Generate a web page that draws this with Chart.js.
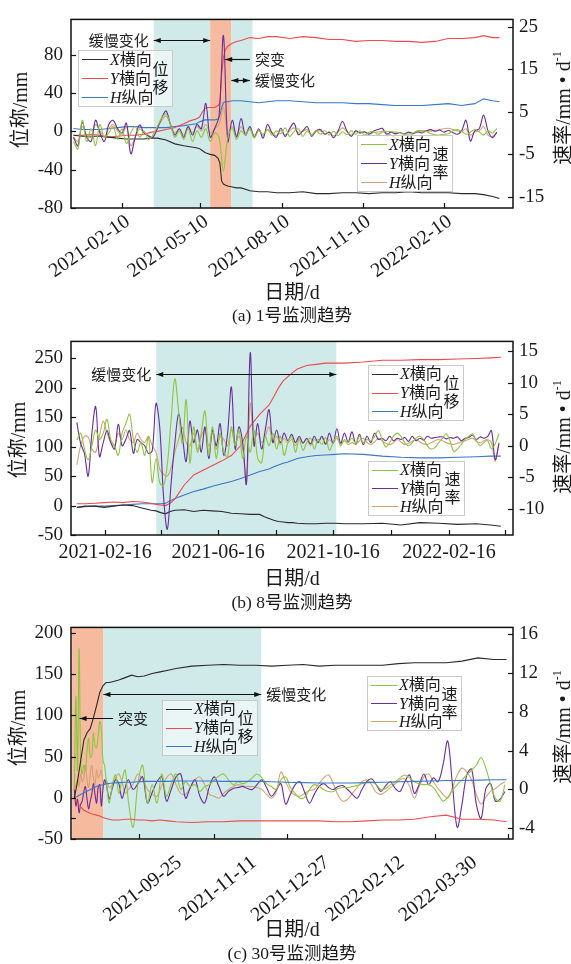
<!DOCTYPE html>
<html>
<head>
<meta charset="utf-8">
<script src="https://cdn.jsdelivr.net/npm/chart.js@4/dist/chart.umd.min.js"></script>
<style>
html,body{margin:0;padding:0;background:#fff;}
body{width:571px;height:964px;position:relative;overflow:hidden;font-family:"Liberation Serif","Noto Sans CJK SC",serif;color:#1a1a1a;}
canvas{position:absolute;left:0;}
.t{position:absolute;white-space:nowrap;transform:translate(-50%,-50%);}
.ax{font-size:20px;}
.cap{font-size:17.5px;}
.vt{position:absolute;white-space:nowrap;transform:translate(-50%,-50%) rotate(-90deg);font-size:20px;}
.vt sup{font-size:12px;vertical-align:9px;line-height:0;}
.lg{position:absolute;box-sizing:border-box;border:1px solid #c9c9c9;background:rgba(255,255,255,0.55);}
.lr{position:absolute;left:3px;height:20px;line-height:20px;display:flex;align-items:center;font-size:16px;white-space:nowrap;}
.ln{display:inline-block;width:26px;height:0;border-top:1.2px solid;margin-right:2px;}
.sd{position:absolute;right:3px;top:50%;transform:translateY(-50%);width:17px;font-size:16px;line-height:18px;text-align:center;}
</style>
</head>
<body>
<canvas id="ca" width="571" height="285" style="top:0px"></canvas>
<canvas id="cb" width="571" height="248" style="top:322px"></canvas>
<canvas id="cc" width="571" height="317" style="top:608px"></canvas>

<div class="vt" style="left:18px;top:110px">位称/mm</div>
<div class="vt" style="left:561px;top:108px">速率/mm • d<sup>-1</sup></div>
<div class="t ax" style="left:292px;top:290px">日期/d</div>
<div class="t cap" style="left:292px;top:313px">(a) 1号监测趋势</div>

<div class="vt" style="left:16px;top:440px">位称/mm</div>
<div class="vt" style="left:561px;top:437px">速率/mm • d<sup>-1</sup></div>
<div class="t ax" style="left:292px;top:576px">日期/d</div>
<div class="t cap" style="left:292px;top:600px">(b) 8号监测趋势</div>

<div class="vt" style="left:16px;top:728px">位称/mm</div>
<div class="vt" style="left:561px;top:727px">速率/mm • d<sup>-1</sup></div>
<div class="t ax" style="left:292px;top:927px">日期/d</div>
<div class="t cap" style="left:292px;top:951px">(c) 30号监测趋势</div>

<script>
// ---------- Station 1: days counted from 2021-01-01 ----------
const dispDaysA = [-15,-5,5,15,25,35,45,55,65,72,80,90,100,110,117,124,128,131,134,137,140,145,149,151,153,155,157,160,165,170,175,185,195,205,215,230,245,260,275,290,305,320,335,350,365,380,395,410,425,440,450,460,468];
const dispXA = [-4,-5,-5,-5,-6,-7,-8,-8,-8,-7,-7,-9,-13,-15,-16,-17,-18,-20,-22,-23,-24,-25,-28,-33,-52,-55,-56,-57,-58,-59,-59,-62,-63,-63,-64,-64,-63,-65,-65,-64,-64,-65,-64,-64,-63,-64,-64,-64,-65,-65,-66,-68,-70];
const dispYA = [-4,-4,-3,-4,-6,-5,-4,-4,-3,-1,0,2,4,8,11,13,15,20,24,25,25,25,27,30,60,77,85,89,92,94,95,98,97,99,99,97,99,98,96,96,94,95,95,94,94,93,94,97,97,98,100,98,98];
const dispHA = [3,2,2,2,3,4,5,5,4,4,4,4,5,6,7,8,10,11,12,12,12,12,13,17,25,30,31,31,32,32,32,31,30,31,32,32,31,30,30,30,29,29,28,27,27,27,28,29,27,29,34,32,31];

const velDaysA = [-15,-10,-5,0,5,10,15,20,25,30,35,40,45,50,55,60,65,70,75,80,85,90,95,100,105,110,115,120,125,130,135,140,145,150,155,160,165,170,175,180,185,190,195,200,205,210,215,220,225,230,235,240,245,250,255,260,265,270,275,280,285,290,295,300,305,310,315,320,325,330,335,340,345,350,355,360,365,370,375,380,385,390,395,400,405,410,415,420,425,430,435,440,445,450,455,460,465];
const velXA = [-2,-3.8,3,-2,1,-3,2,-1,0,1.5,-1.5,1,-2.5,0,1.5,-1,0.5,-1.5,-0.5,1.5,3.5,4.5,2,-1,0.5,-1.5,1,-2,0.5,-1,1,-2,0,-1,-9,-1,
  1,-1.5,0.5,-0.5,1,-1.2,0.5,-0.3,0.8,-0.5,0.5,-0.2,1.2,-0.8,0.3,1,-0.8,0.5,-0.5,0.6,-0.3,0.6,-0.5,0.4,-0.6,0.3,-0.4,0.5,-0.3,0.5,-0.5,0.2,0.4,-0.3,0.2,0.4,0.3,0.2,0,-0.3,-0.2,0,0.5,0.6,0.4,-0.2,-0.4,-0.5,-0.3,-0.2,0.5,0.8,0.4,-0.3,0.2,0.8,0.3,-0.5,0.5,0,1.1];
const velYA = [-1,-3,2.5,-1,-2,3,0,-2,2,3,1,0,2.3,-4.9,-1,1.9,0,-0.7,-1,1,3.5,5.2,2,-0.5,1,-1,1.5,-0.5,2,1,7,-1,1,4,23,-2,
  3,-1,3.4,-0.5,1.5,-1,1,-1.2,2,0,-1,1.1,-0.8,1,2.3,-0.4,0.5,1.5,-0.8,0.5,0.8,-0.3,0.2,-1.1,0.5,2.7,0.5,-0.8,0.5,0,0.3,-0.3,0.4,0.8,1.1,-0.3,0.2,-0.2,0.1,-0.2,0.2,-0.1,0.3,0,0.5,0.8,0.4,0.7,0.2,0.6,0.1,-0.3,0.5,3,-1.9,0.5,1,4.2,0.5,-1.1,0.2];
const velHA = [-1,-2,1.5,-0.5,-1,2,0.5,-1,1,2,0.5,-0.5,1.5,-3,-1,1,0,-0.5,-1,1,3,4,2,0,1,-0.5,1.5,0,1.5,0.5,2,0,1,2,6,0,
  1.5,-0.5,1.5,0,0.8,-0.5,0.6,-0.6,0.8,0.2,-0.6,0.6,-0.4,0.5,1.2,0,0.4,0.8,-0.5,0.3,0.5,-0.2,0.1,-0.7,0.2,1.2,0.3,-0.5,0.3,0,0.2,-0.2,0.1,0.2,0.4,0,-0.5,-1.2,-1.8,-1.5,-0.8,-0.2,0.2,0.3,0.5,0.4,0.6,0.8,1,1.1,0.8,0.5,0.3,1,-0.5,0.3,0.5,1.5,-0.5,-0.8,0];

const tickDaysA = [40,129,221,313,405];
const tickLabelsA = ['2021-02-10','2021-05-10','2021-08-10','2021-11-10','2022-02-10'];

// ---------- Station 8 ----------
const dispDaysB = [16,25,35,45,55,65,75,85,95,100,105,110,115,120,130,140,150,160,170,180,190,200,210,215,220,225,230,235,240,245,250,260,270,280,290,300,320,340,360,380,400,420,440,455,466];
const dispXB = [-3,-1,-1,-3,-1,1,0,-4,-8,-9,-12,-14,-10,-8,-7,-10,-8,-9,-10,-13,-14,-15,-15,-19,-22,-25,-27,-28,-29,-29,-30,-31,-31,-30,-30,-31,-31,-30,-33,-29,-30,-32,-31,-33,-35];
const dispYB = [3,3,4,5,6,5,7,6,4,2,1,0,4,11,35,52,60,68,76,85,102,135,155,163,171,185,200,212,219,226,232,238,240,242,242,242,244,247,247,248,248,249,250,251,252];
const dispHB = [-3,-2,-1,-1,0,1,2,3,3,3,3,4,8,12,18,24,28,33,37,41,46,52,58,60,62,66,69,72,74,77,80,83,85,86,87,88,87,84,82,81,81,82,83,84,84];

const velDaysB = [16,20,24,28,32,36,40,44,48,52,56,60,64,68,72,76,80,84,88,92,96,100,104,108,112,116,120,124,128,132,136,140,144,148,152,156,160,164,168,172,176,180,184,188,192,196,200,204,208,212,216,220,224,228,232,236,240,244,248,252,256,260,264,268,272,276,280,284,288,292,296,300,304,308,312,316,320,324,328,332,336,340,344,348,352,356,360,364,368,372,376,380,384,388,392,396,400,404,408,412,416,420,424,428,432,436,440,444,448,452,456,460,464];
const velXB = [0.9,2,-0.5,-2.2,0,2.5,1,2,4.2,1,0,-1.5,2,3.5,5,1,-1,0.5,-1.5,1.4,-5.8,-2,-5.8,-6.3,-3,4,10.6,5.5,0.4,7.3,-2.7,3,-1,2,5.5,-1.5,3,-2,2,-1,-1.7,3,0,2.5,-2,1.5,-1,2.5,-2,-2.7,1.5,0,2,-0.5,1.5,-1.5,0.5,1.5,-1,1,-0.7,0.5,1.2,-0.5,1,0.2,1.3,-0.7,0.5,1.5,0,1,0.5,1.2,0.3,1.5,0.5,1,0.8,1.5,2.4,1,-0.2,0.5,1.5,2,1.5,0.5,0,0.5,1.2,1.5,1,0,-0.5,-0.3,0.5,1.2,1.9,0.8,-0.9,-0.5,0.2,1,1.5,1.9,0.8,0,0.5,0.8,-0.5,0.3,1.9];
const velYB = [3.7,0.4,-1.2,-4.8,2,6.2,-1.7,0.5,2.4,0.5,-0.5,3.4,0,1,2.4,-1.2,1,0.5,0,-1.2,-0.8,6.7,2.9,-8,-13.2,-6,0.4,5,1.4,-2.5,3.9,0.5,2.5,-1,3,-2,2.5,0,3.5,-1.5,2,9.3,-0.5,3,0.5,-6,14.7,0,3.5,-0.5,2.5,5.7,0.5,2.5,0.5,2,0.8,1.8,0.5,1.5,0.4,1.2,0.3,1.5,0.5,1.5,0.3,2,0.4,2.7,0.4,2,0.6,2.2,0.3,1.8,0.2,1.5,0.5,2,1,1.2,0.8,1.5,0.8,1.2,1,1.3,0.7,1.5,0.8,1.2,0.9,1.5,1.2,1.3,1.4,1.4,1.1,1.3,1.2,1.4,0.8,1.2,1.3,1.7,1,1.4,1.2,1.5,2.4,-2.2,0.4];
const velHB = [-3,0,1.5,1.4,-0.5,-1,1.5,3.9,2,0.5,0,2,1,2.5,1,0.5,2,1,0.5,1.5,0,-1,-3.7,-4.5,-4.8,-3.5,-1,1,2.9,0.5,0,2,-0.5,1.5,2.5,0,2,-0.5,1.5,1,0,2.5,0.5,1.5,-0.5,-6,6.7,1,2,0.5,1.5,3,0.5,1.5,0.2,1.2,0.5,1,0,1.2,0.5,1,0,1,0.5,1.3,0.2,1,0.5,1.2,0.3,0.8,0.2,0.5,0.2,0.8,1.2,0.5,0.2,0.6,1.2,0.8,0.4,0.2,0.5,1,0.6,0.2,0.4,0.7,1,0.6,0.3,0.2,0.5,0.8,1,0.8,0.5,0.3,0.2,0.4,0.6,0.8,1,1.2,0.7,0.5,0.8,1,0.5,-2.5,0.5];

const tickDaysB = [46,105,166,227,288,349,411,470];
const tickLabelsB = ['2021-02-16','','2021-06-16','','2021-10-16','','2022-02-16',''];

// ---------- Station 30 ----------
const dispDaysC = [226,228,230,232,234,236,238,240,242,244,246,248,250,254,258,262,266,270,275,280,285,290,300,310,320,330,340,350,360,370,380,390,400,410,420,430,440,450,460,470,480,490,498];
const dispXC = [0,20,45,70,79,84,97,112,128,136,140,140,141,143,146,149,147,148,151,153,155,157,160,161,162,161,161,160,161,162,160,161,161,161,161,163,164,164,164,166,170,168,168];
const dispYC = [0,-6,-11,-15,-17,-19,-20,-21,-22,-24,-25,-26,-27,-27,-26,-26,-27,-27,-28,-27,-28,-29,-30,-29,-29,-28,-28,-28,-28,-28,-28,-29,-29,-28,-27,-27,-26,-23,-21,-26,-26,-27,-29];
const dispHC = [0,2,4,6,8,10,12,14,15,16,17,17.5,18,18.5,19,19,19.5,20,20,20,20,20.5,20.5,20.5,20,20,20,19.5,19,18.5,18,18,18,18.5,19,19.5,20,20.5,21,21,21.5,22,22];

const velDaysC = [226,227,228,229,230,231,232,233,234,235,236,237,238,239,240,241,242,243,244,245,246,247,248,250,252,254,256,258,260,263,266,269,272,275,278,281,284,287,290,293,296,299,302,305,308,311,314,317,320,323,326,329,332,335,338,341,344,347,350,353,356,359,362,365,368,371,374,377,380,383,386,389,392,395,398,401,404,407,410,413,416,419,422,425,428,431,434,437,440,443,446,449,452,455,458,461,464,467,470,473,476,479,482,485,488,491,494,497];
const velXC = [0,9.6,2,14.5,3,1.6,2.5,2,4,5.3,3.3,3.5,5.8,4.5,4.3,5.5,7,6.3,3,2.5,1,-0.5,-1.4,
  0.5,1.5,-0.4,1,2,-1.2,
  -3.9,0.6,2.5,-1.4,0.5,-1.4,1.6,-0.7,0.6,1.6,0,0.8,0.3,0.5,-0.2,0.3,0.5,1,1.4,1.6,1,0.5,0.8,0.6,0.8,1.2,1.6,1.2,0.6,0.3,0,1,1.3,0.2,-0.4,-0.9,-0.8,0,0.5,0.3,0,-0.2,-0.2,0.1,0.2,0.2,0.3,0.4,0.6,0.7,0.8,0.5,0,0.1,0.5,0.8,1.2,1.5,1.2,0.8,0.6,0.5,0.5,0.2,-0.5,-1.2,-0.8,-0.1,0.5,1,1.5,2,2.5,3.3,2.2,0.5,-0.9,-1.2,0.5];
const velYC = [0,-1.7,-1,-2.4,-1.5,-1.2,-0.2,0.3,-1,-2,-1.2,-0.5,0.6,-0.5,-1.4,0.2,0.5,-1.7,0,1,0.6,-0.3,-1,
  0.2,1,0.6,-0.9,0.2,1,
  0,0.6,1.3,-1.4,-0.3,0.8,1.3,-1.2,0,1.3,1.6,-0.9,0.2,1,-0.7,-1.4,0.3,1.3,0.3,-0.7,-0.2,0.1,0.2,0.3,0.1,0,0.5,1,0.2,-0.7,-0.1,0.6,-1.5,-0.5,0.5,0.8,-0.3,-1.4,-0.5,0.3,0.6,0.2,0,0.3,0.4,0,-0.5,-0.9,0,0.8,1.1,0.5,-0.2,0.4,0.8,0.1,-0.2,0.8,1.5,-0.4,0.5,1.6,0.5,1.2,0.8,2.5,5,0.5,-3.9,-1.5,1.5,2.1,-1.5,-3,0.1,0.6,-1.2,-1,-0.2];
const velHC = [0,0.5,1,0.3,1.6,0.8,1.2,2.5,1,0.2,1.5,2.5,1.2,0.5,2,1.2,1.5,2,0.8,0.5,1,0.6,0.2,
  0.5,1.2,1.6,0.8,-0.4,0,
  0.6,1.6,1,0,-0.5,-0.7,0.4,1.2,1.6,0.5,-0.4,-0.5,0.2,1,1.3,0.5,-0.5,-0.7,-0.9,-0.4,0,0.3,0.5,0.4,0.3,0.3,0.2,0,-0.5,-0.9,-0.3,1.8,0.8,-0.2,-0.6,-0.7,-0.4,-0.1,0,0.6,1.2,1.5,0.6,-0.6,-1.2,-1,-0.4,0.2,0.8,1,0.5,-0.3,-0.5,-0.2,0.2,0.6,1,1.1,0.3,-0.9,0.3,1.3,1.6,0.8,0.1,-0.5,-0.9,0.2,1.5,2.2,1.8,1,-0.5,-1.5,-0.8,-0.2,0.1,0.5,0.8];

const tickDaysC = [267,314,360,407,453,499];
const tickLabelsC = ['2021-09-25','2021-11-11','2021-12-27','2022-02-12','2022-03-30',''];

// ---------- styling ----------
const COL = {dX:'#2a2a2a', dY:'#ef4b4f', dH:'#3b78c8', vX:'#8cc63f', vY:'#6a2d9c', vH:'#d3a373'};
const SHADE_SLOW = '#d0e9e9', SHADE_FAST = '#f6bb9f';
const FONT = '"Liberation Serif", "Noto Sans CJK SC", serif';

function pts(days, vals){ return days.map((d,i)=>({x:d, y:vals[i]})); }

function head(ctx, x, y, dir){
  ctx.beginPath();
  ctx.moveTo(x, y);
  ctx.lineTo(x - dir*7, y - 2.6);
  ctx.lineTo(x - dir*7, y + 2.6);
  ctx.closePath();
  ctx.fill();
}

const deco = {
  id:'deco',
  beforeDatasetsDraw(chart, args, o){
    const {ctx, chartArea:a, scales:{x}} = chart;
    ctx.save();
    (o.shades||[]).forEach(s=>{
      const x0 = Math.max(a.left, x.getPixelForValue(s.from));
      const x1 = Math.min(a.right, x.getPixelForValue(s.to));
      ctx.fillStyle = s.color;
      ctx.fillRect(x0, a.top, x1-x0, a.bottom-a.top);
    });
    ctx.restore();
  },
  afterDatasetsDraw(chart, args, o){
    const {ctx, scales:{x, yL}} = chart;
    ctx.save();
    ctx.strokeStyle = '#111'; ctx.fillStyle = '#111'; ctx.lineWidth = 1.2;
    ctx.font = '15px "Noto Sans CJK SC"'; ctx.textBaseline = 'middle';
    (o.arrows||[]).forEach(ar=>{
      const xa = x.getPixelForValue(ar.from), xb = x.getPixelForValue(ar.to), y = Math.round(yL.getPixelForValue(ar.at))+0.5;
      ctx.beginPath(); ctx.moveTo(xa, y); ctx.lineTo(xb, y); ctx.stroke();
      head(ctx, xb, y, Math.sign(xb-xa));
      if (ar.both) head(ctx, xa, y, Math.sign(xa-xb));
      ctx.fillStyle = '#222';
      if (ar.side === 'left'){ ctx.textAlign = 'right'; ctx.fillText(ar.text, Math.min(xa,xb)-5, y); }
      else { ctx.textAlign = 'left'; ctx.fillText(ar.text, Math.max(xa,xb)+5, y); }
      ctx.fillStyle = '#111';
    });
    ctx.restore();
  },
  afterDraw(chart){
    const {ctx, chartArea:a} = chart;
    ctx.save();
    ctx.strokeStyle = '#111'; ctx.lineWidth = 1.5;
    ctx.strokeRect(a.left, a.top, a.right-a.left, a.bottom-a.top);
    ctx.lineWidth = 1.2;
    ['x','yL','yR'].forEach(id=>{
      const s = chart.scales[id];
      s.ticks.forEach(t=>{
        const p = Math.round(s.getPixelForValue(t.value))+0.5;
        ctx.beginPath();
        if (id==='x'){ ctx.moveTo(p, a.bottom); ctx.lineTo(p, a.bottom-5); }
        else if (id==='yL'){ ctx.moveTo(a.left, p); ctx.lineTo(a.left+5, p); }
        else { ctx.moveTo(a.right, p); ctx.lineTo(a.right-5, p); }
        ctx.stroke();
      });
    });
    ctx.restore();
  }
};

function line(label, data, color, axis, tension){
  return {label, data, borderColor:color, backgroundColor:color, borderWidth:1.1, pointRadius:0, yAxisID:axis, tension, fill:false};
}

function panel(id, o){
  const disp = [
    line('X横向', pts(o.dDays, o.dX), COL.dX, 'yL', 0),
    line('Y横向', pts(o.dDays, o.dY), COL.dY, 'yL', 0),
    line('H纵向', pts(o.dDays, o.dH), COL.dH, 'yL', 0)
  ];
  const vel = [
    line('X横向', pts(o.vDays, o.vX), COL.vX, 'yR', 0.35),
    line('Y横向', pts(o.vDays, o.vY), COL.vY, 'yR', 0.35),
    line('H纵向', pts(o.vDays, o.vH), COL.vH, 'yR', 0.35)
  ];
  const tickFont = {family: FONT, size: 19};
  return new Chart(document.getElementById(id), {
    type:'line',
    data:{datasets: o.dispOnTop ? disp.concat(vel) : vel.concat(disp)},
    options:{
      responsive:false, animation:false, devicePixelRatio:1, parsing:false, normalized:true,
      layout:{padding:{top:o.padTop, left:0, right:0, bottom:0}},
      plugins:{legend:{display:false}, tooltip:{enabled:false},
        deco:{shades:o.shades, arrows:o.arrows}},
      scales:{
        x:{type:'linear', min:o.xMin, max:o.xMax, offset:false,
          afterBuildTicks:s=>{ s.ticks = o.xTicks.map(v=>({value:v})); },
          afterFit:s=>{ s.height = o.xH; },
          grid:{display:false, drawTicks:false}, border:{display:false},
          ticks:{autoSkip:false, minRotation:o.rot, maxRotation:o.rot, padding:o.xPad, labelOffset:o.xOff,
            font:{family:FONT, size:20}, color:'#1a1a1a', callback:(v,i)=>o.xLabels[i]}},
        yL:{type:'linear', position:'left', min:o.lMin, max:o.lMax,
          afterBuildTicks:s=>{ s.ticks = o.lTicks.map(v=>({value:v})); },
          afterFit:s=>{ s.width = 71; },
          grid:{display:false, drawTicks:false}, border:{display:false},
          ticks:{padding:8, font:tickFont, color:'#1a1a1a', callback:v=>o.lLab.includes(v)?String(v):''}},
        yR:{type:'linear', position:'right', min:o.rMin, max:o.rMax,
          afterBuildTicks:s=>{ s.ticks = o.rTicks.map(v=>({value:v})); },
          afterFit:s=>{ s.width = 58; },
          grid:{display:false, drawTicks:false}, border:{display:false},
          ticks:{padding:6, font:tickFont, color:'#1a1a1a', callback:v=>o.rLab.includes(v)?String(v):''}}
      }
    },
    plugins:[deco]
  });
}

panel('ca', {
  dDays:dispDaysA, dX:dispXA, dY:dispYA, dH:dispHA,
  vDays:velDaysA, vX:velXA, vY:velYA, vH:velHA,
  padTop:12, xH:77, xMin:-17.8, xMax:483.3, xTicks:tickDaysA, xLabels:tickLabelsA, rot:35, xPad:2, xOff:6,
  lMin:-80, lMax:117, lTicks:[-80,-60,-40,-20,0,20,40,60,80,100], lLab:[-80,-40,0,40,80],
  rMin:-17.7, rMax:26.8, rTicks:[-15,-10,-5,0,5,10,15,20,25], rLab:[-15,-10,-5,0,5,10,15,20,25],
  shades:[{from:76,to:140,color:SHADE_SLOW},{from:140,to:164,color:SHADE_FAST},{from:164,to:188,color:SHADE_SLOW}],
  arrows:[{from:76,to:140,at:95,both:true,text:'缓慢变化',side:'left'},
          {from:185,to:157,at:76,both:false,text:'突变',side:'right'},
          {from:164,to:185,at:54,both:true,text:'缓慢变化',side:'right'}]
});

panel('cb', {
  dDays:dispDaysB, dX:dispXB, dY:dispYB, dH:dispHB,
  vDays:velDaysB, vX:velXB, vY:velYB, vH:velHB,
  padTop:13, xH:35, xMin:9.8, xMax:478.9, xTicks:tickDaysB, xLabels:tickLabelsB, rot:0, xPad:6, xOff:0,
  lMin:-50, lMax:279, lTicks:[-50,0,50,100,150,200,250], lLab:[-50,0,50,100,150,200,250],
  rMin:-14.1, rMax:16.5, rTicks:[-10,-5,0,5,10,15], rLab:[-10,-5,0,5,10,15],
  shades:[{from:100.3,to:291.4,color:SHADE_SLOW}],
  arrows:[{from:100.3,to:291.4,at:223,both:true,text:'缓慢变化',side:'left'}]
});

panel('cc', {
  dDays:dispDaysC, dX:dispXC, dY:dispYC, dH:dispHC,
  vDays:velDaysC, vX:velXC, vY:velYC, vH:velHC, dispOnTop:true,
  padTop:13, xH:86, xMin:223.9, xMax:502.1, xTicks:tickDaysC, xLabels:tickLabelsC, rot:38, xPad:12, xOff:40,
  lMin:-50, lMax:207, lTicks:[-50,-25,0,50,100,150,200], lLab:[-50,0,50,100,150,200],
  rMin:-5.1, rMax:16.7, rTicks:[-4,-2,0,2,4,6,8,10,12,14,16], rLab:[-4,0,4,8,12,16],
  shades:[{from:224.6,to:244.3,color:SHADE_FAST},{from:244.3,to:343.6,color:SHADE_SLOW}],
  arrows:[{from:250.4,to:229.3,at:97,both:false,text:'突变',side:'right'},
          {from:244.3,to:343.6,at:126.5,both:true,text:'缓慢变化',side:'right'}]
});

// ---------- legends ----------
const dispItems = [{k:'X',t:'横向',c:COL.dX},{k:'Y',t:'横向',c:COL.dY},{k:'H',t:'纵向',c:COL.dH}];
const velItems = [{k:'X',t:'横向',c:COL.vX},{k:'Y',t:'横向',c:COL.vY},{k:'H',t:'纵向',c:COL.vH}];

function legend(x, y, w, h, items, side){
  const box = document.createElement('div');
  box.className = 'lg';
  Object.assign(box.style, {left:x+'px', top:y+'px', width:w+'px', height:h+'px'});
  items.forEach((it,i)=>{
    const row = document.createElement('div');
    row.className = 'lr';
    row.style.top = (h*(2*i+1)/6 - 11) + 'px';
    row.innerHTML = '<span class="ln" style="border-color:'+it.c+'"></span><i>'+it.k+'</i>'+it.t;
    box.appendChild(row);
  });
  const sd = document.createElement('div');
  sd.className = 'sd';
  sd.innerHTML = side[0] + '<br>' + side[1];
  box.appendChild(sd);
  document.body.appendChild(box);
}

legend(78, 50, 95, 57, dispItems, '位移');
legend(357, 135, 96, 57, velItems, '速率');
legend(368, 365, 96, 56, dispItems, '位移');
legend(368, 461, 97, 55, velItems, '速率');
legend(162, 700, 96, 56, dispItems, '位移');
legend(367, 676, 95, 55, velItems, '速率');
</script>
</body>
</html>
